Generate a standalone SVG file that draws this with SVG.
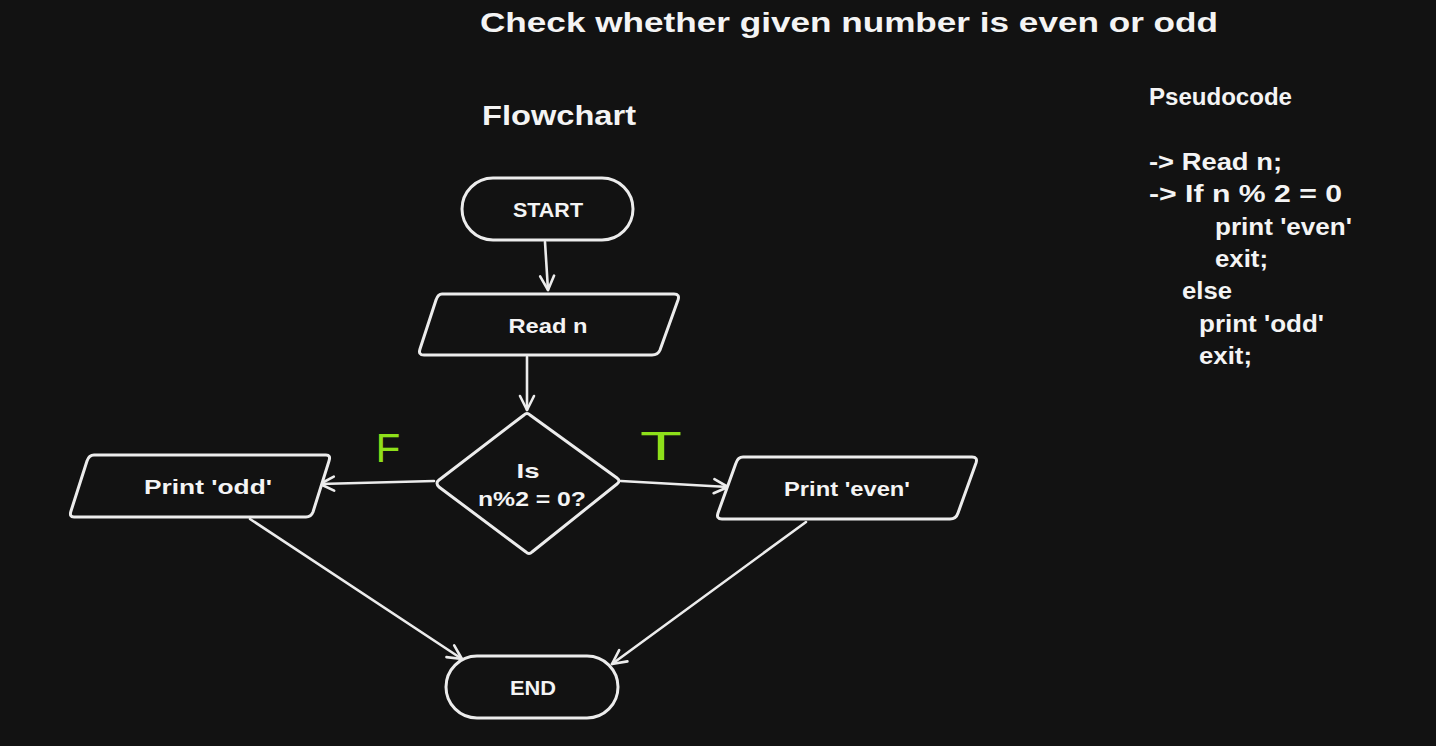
<svg xmlns="http://www.w3.org/2000/svg" width="1436" height="746" viewBox="0 0 1436 746">
<defs>
<style>
.bg{fill:#121212}
.shape{fill:#121212;stroke:#ececec;stroke-width:3;stroke-linejoin:round;stroke-linecap:round}
.edge{fill:none;stroke:#ececec;stroke-width:2.6;stroke-linecap:round}
text{font-family:"Liberation Sans","Noto Sans",sans-serif;font-weight:bold;fill:#f4f4f4}
.lbl{font-size:21px;text-anchor:middle;dominant-baseline:central}
.code{font-size:23px}
.tf{font-size:40px;fill:#8ee01a;font-weight:normal;text-anchor:middle}
</style>
<marker id="arr" viewBox="0 0 20 20" refX="18" refY="10" markerWidth="20" markerHeight="20" markerUnits="userSpaceOnUse" orient="auto">
<path d="M4 3 L18 10 L4 17" fill="none" stroke="#ececec" stroke-width="2.6" stroke-linecap="round" stroke-linejoin="round"/>
</marker>
</defs>
<rect class="bg" x="0" y="0" width="1436" height="746"/>

<text x="480" y="32" font-size="28" textLength="738" lengthAdjust="spacingAndGlyphs">Check whether given number is even or odd</text>
<text x="482" y="125" font-size="27" textLength="154" lengthAdjust="spacingAndGlyphs">Flowchart</text>

<g id="pseudocode">
<text class="code" x="1149" y="105" textLength="143" lengthAdjust="spacingAndGlyphs">Pseudocode</text>
<text class="code" x="1149" y="170" textLength="133" lengthAdjust="spacingAndGlyphs">-&gt; Read n;</text>
<text class="code" x="1149" y="202" textLength="193" lengthAdjust="spacingAndGlyphs">-&gt; If n % 2 = 0</text>
<text class="code" x="1215" y="235" textLength="137" lengthAdjust="spacingAndGlyphs">print 'even'</text>
<text class="code" x="1215" y="267" textLength="53" lengthAdjust="spacingAndGlyphs">exit;</text>
<text class="code" x="1182" y="299" textLength="50" lengthAdjust="spacingAndGlyphs">else</text>
<text class="code" x="1199" y="332" textLength="125" lengthAdjust="spacingAndGlyphs">print 'odd'</text>
<text class="code" x="1199" y="364" textLength="53" lengthAdjust="spacingAndGlyphs">exit;</text>
</g>

<g id="connectors">
<path class="edge" d="M545 242 L548 290" marker-end="url(#arr)"/>
<path class="edge" d="M527 357 L527 410" marker-end="url(#arr)"/>
<path class="edge" d="M434 481 L320 484" marker-end="url(#arr)"/>
<path class="edge" d="M621 481 L728 487" marker-end="url(#arr)"/>
<path class="edge" d="M250 519 L462 659" marker-end="url(#arr)"/>
<path class="edge" d="M806 522 L612 664" marker-end="url(#arr)"/>
</g>

<g id="label-F"><text class="tf" x="388" y="462">F</text></g>
<g id="label-T"><text class="tf" x="661" y="460" textLength="42" lengthAdjust="spacingAndGlyphs">T</text></g>

<g id="start">
<rect class="shape" x="462" y="178" width="171" height="62" rx="31"/>
<text class="lbl" x="548" y="209" textLength="70" lengthAdjust="spacingAndGlyphs">START</text>
</g>

<g id="read">
<path class="shape" d="M442 294 L674 294 Q680 294 678 300 L660 350 Q658 355 652 355 L424 355 Q418 355 420 349 L436 300 Q438 294 442 294 Z"/>
<text class="lbl" x="548" y="325" textLength="79" lengthAdjust="spacingAndGlyphs">Read n</text>
</g>

<g id="decision">
<path class="shape" d="M524 415 Q527 412 530 415 L617 478 Q621 481 617 484 L532 552 Q529 555 526 552 L439 487 Q435 483 439 480 Z"/>
<text class="lbl" x="528" y="470" textLength="23" lengthAdjust="spacingAndGlyphs">Is</text>
<text class="lbl" x="532" y="498" textLength="108" lengthAdjust="spacingAndGlyphs">n%2 = 0?</text>
</g>

<g id="odd">
<path class="shape" d="M94 455 L326 455 Q331 455 329 461 L313 512 Q311 517 306 517 L74 517 Q69 517 71 511 L87 461 Q89 455 94 455 Z"/>
<text class="lbl" x="208" y="486" textLength="128" lengthAdjust="spacingAndGlyphs">Print 'odd'</text>
</g>

<g id="even">
<path class="shape" d="M743 457 L972 457 Q978 457 976 463 L958 513 Q956 519 950 519 L722 519 Q716 519 718 513 L736 463 Q738 457 743 457 Z"/>
<text class="lbl" x="847" y="488" textLength="126" lengthAdjust="spacingAndGlyphs">Print 'even'</text>
</g>

<g id="end">
<rect class="shape" x="446" y="656" width="172" height="62" rx="31"/>
<text class="lbl" x="533" y="687" textLength="46" lengthAdjust="spacingAndGlyphs">END</text>
</g>
</svg>
